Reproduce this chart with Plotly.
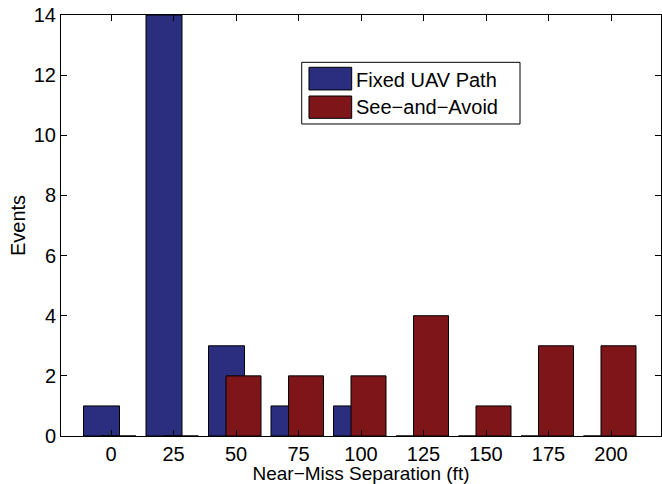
import plotly.graph_objects as go

separation = [0, 25, 50, 75, 100, 125, 150, 175, 200]
fixed_uav = [1, 14, 3, 1, 1, 0, 0, 0, 0]
see_avoid = [0, 0, 2, 2, 2, 4, 1, 3, 3]
y_ticks = [0, 2, 4, 6, 8, 10, 12, 14]
series_names = ["Fixed UAV Path", "See\u2212and\u2212Avoid"]

BLUE = "#2B2D7E"
RED = "#7E1518"
FONT = "Liberation Sans, Arial, Helvetica, sans-serif"

fig = go.Figure()
fig.add_trace(go.Bar(
    x=separation, y=fixed_uav, name=series_names[0],
    width=14.4, offset=-11,
    marker=dict(color=BLUE, line=dict(color="black", width=1)),
))
fig.add_trace(go.Bar(
    x=separation, y=see_avoid, name=series_names[1],
    width=14, offset=-4,
    marker=dict(color=RED, line=dict(color="black", width=1)),
))

# MATLAB-style legend box (drawn in paper coordinates)
shapes = [
    dict(type="rect", xref="paper", yref="paper", x0=0.4012, x1=0.765, y0=0.7411, y1=0.8876,
         line=dict(color="black", width=1), fillcolor="white", layer="above"),
    dict(type="rect", xref="paper", yref="paper", x0=0.4133, x1=0.4845, y0=0.8219, y1=0.8758,
         line=dict(color="black", width=1), fillcolor=BLUE, layer="above"),
    dict(type="rect", xref="paper", yref="paper", x0=0.4133, x1=0.4845, y0=0.7546, y1=0.8076,
         line=dict(color="black", width=1), fillcolor=RED, layer="above"),
]
annotations = [
    dict(xref="paper", yref="paper", x=0.489, y=0.8465, xanchor="left", yanchor="middle",
         text=series_names[0], showarrow=False, font=dict(size=20)),
    dict(xref="paper", yref="paper", x=0.489, y=0.7810, xanchor="left", yanchor="middle",
         text=series_names[1], showarrow=False, font=dict(size=20)),
]

fig.update_layout(
    width=662, height=484,
    margin=dict(l=61, r=1, t=15, b=48),
    barmode="overlay",
    paper_bgcolor="white", plot_bgcolor="white",
    font=dict(family=FONT, size=20, color="black"),
    showlegend=False,
    shapes=shapes,
    annotations=annotations,
    xaxis=dict(
        range=[-20, 220], tickmode="array", tickvals=separation,
        ticktext=[str(v) for v in separation],
        ticks="inside", ticklen=6, tickcolor="black",
        showline=True, linecolor="black", linewidth=1, mirror="ticks",
        showgrid=False, zeroline=False,
        title=dict(text="Near\u2212Miss Separation (ft)", standoff=6, font=dict(size=19)),
        tickfont=dict(size=20),
    ),
    yaxis=dict(
        range=[0, 14], tickmode="array", tickvals=y_ticks,
        ticks="inside", ticklen=6, tickcolor="black",
        showline=True, linecolor="black", linewidth=1, mirror="ticks",
        showgrid=False, zeroline=False,
        title=dict(text="Events", standoff=2, font=dict(size=20)),
        tickfont=dict(size=20),
    ),
)

fig.write_html("out.html")
